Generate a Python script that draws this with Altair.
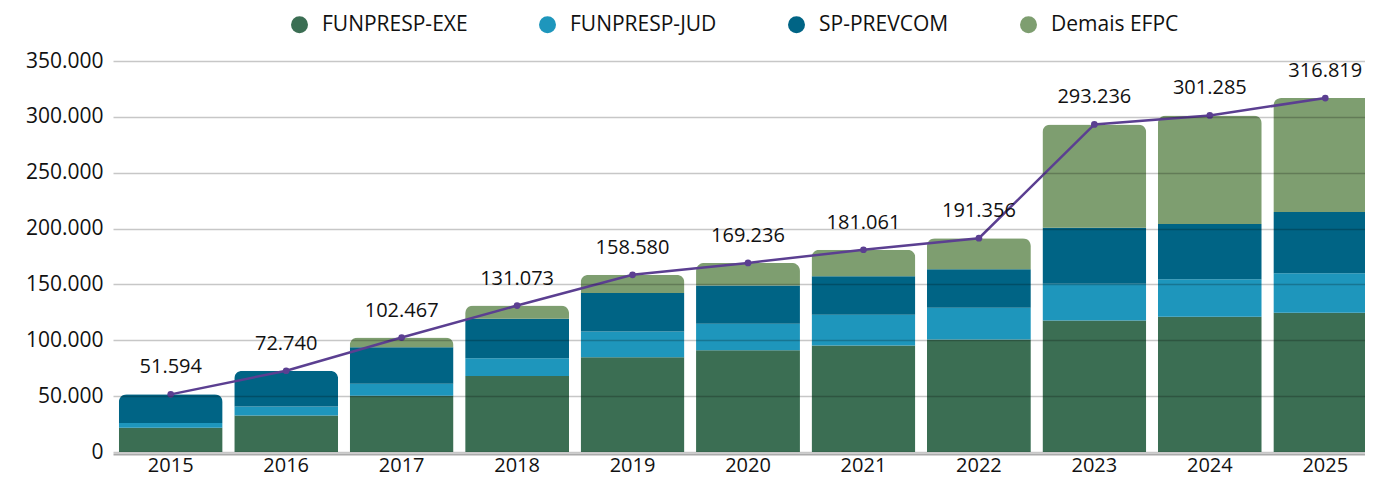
import altair as alt
import pandas as pd

years = ["2015", "2016", "2017", "2018", "2019", "2020", "2021", "2022", "2023", "2024", "2025"]
series = ["FUNPRESP-EXE", "FUNPRESP-JUD", "SP-PREVCOM", "Demais EFPC"]
colors = ["#3B6E53", "#1E96BC", "#006485", "#7E9E70"]

funpresp_exe = [21600, 32700, 50400, 68000, 84900, 91000, 95400, 100800, 117600, 121100, 124600]
funpresp_jud = [4400, 8000, 10600, 15900, 23000, 23900, 27400, 28300, 33000, 33600, 35400]
sp_prevcom = [25594, 32040, 32700, 35400, 34500, 34200, 34500, 34500, 50100, 49500, 54800]
demais_efpc = [0, 0, 8767, 11773, 16180, 20136, 23761, 27756, 92536, 97085, 102019]
totals = [51594, 72740, 102467, 131073, 158580, 169236, 181061, 191356, 293236, 301285, 316819]

rows = []
for i, y in enumerate(years):
    for k, (name, vals) in enumerate(zip(series, [funpresp_exe, funpresp_jud, sp_prevcom, demais_efpc])):
        rows.append({"ano": y, "serie": name, "valor": vals[i], "ord": k})
bars_df = pd.DataFrame(rows)
tot_df = pd.DataFrame({"ano": years, "total": totals})

FONT = "Open Sans"
fmt_expr = "replace(format(datum.value, ',d'), regexp(',', 'g'), '.')"

x_enc = alt.X(
    "ano:O",
    sort=years,
    scale=alt.Scale(paddingInner=0.1, paddingOuter=0.05),
    axis=alt.Axis(
        title=None, labelAngle=0, ticks=False, domain=True, domainColor="#aaaaaa",
        domainWidth=2, offset=2, labelPadding=1, labelFontSize=20, labelColor="#111111",
        labelFont=FONT, grid=False, zindex=1,
    ),
)
y_scale = alt.Scale(domain=[0, 350000], nice=False)

bars = alt.Chart(bars_df).mark_bar(cornerRadiusTopLeft=8, cornerRadiusTopRight=8).encode(
    x=x_enc,
    y=alt.Y(
        "valor:Q",
        stack="zero",
        scale=y_scale,
        axis=alt.Axis(
            title=None, values=[0, 50000, 100000, 150000, 200000, 250000, 300000, 350000],
            labelExpr=fmt_expr, domain=False, ticks=False, labelPadding=10,
            labelFontSize=21, labelColor="#111111", labelFont=FONT,
            grid=True, gridColor="#000000", gridOpacity=0.22, gridWidth=1.5, zindex=1,
        ),
    ),
    color=alt.Color(
        "serie:N",
        scale=alt.Scale(domain=series, range=colors),
        legend=alt.Legend(
            title=None, orient="none", direction="horizontal", legendX=176, legendY=-47,
            symbolType="circle", symbolSize=289, symbolStrokeWidth=0, symbolOpacity=1,
            labelFontSize=21, labelFont=FONT, labelColor="#111111", labelOffset=12,
            columnPadding=69, padding=0,
        ),
    ),
    order=alt.Order("ord:Q", sort="ascending"),
)

line = alt.Chart(tot_df).mark_line(color="#5B3F91", strokeWidth=2.5).encode(
    x=alt.X("ano:O", sort=years),
    y=alt.Y("total:Q", scale=y_scale),
)
pts = alt.Chart(tot_df).mark_point(filled=True, color="#5B3F91", size=45, opacity=1).encode(
    x=alt.X("ano:O", sort=years),
    y=alt.Y("total:Q", scale=y_scale),
)
labels = alt.Chart(tot_df).transform_calculate(
    rotulo="replace(format(datum.total, ',d'), regexp(',', 'g'), '.')"
).mark_text(dy=-27, fontSize=20, font=FONT, color="#111111", baseline="middle").encode(
    x=alt.X("ano:O", sort=years),
    y=alt.Y("total:Q", scale=y_scale),
    text="rotulo:N",
)

chart = alt.layer(bars, line, pts, labels).properties(
    width=1270,
    height=391,
    autosize=alt.AutoSizeParams(type="none"),
    padding={"left": 105, "top": 53, "right": -18, "bottom": 25},
).configure(font=FONT).configure_view(stroke=None)

chart.save("out.html", embed_options={"renderer": "svg", "actions": False})
